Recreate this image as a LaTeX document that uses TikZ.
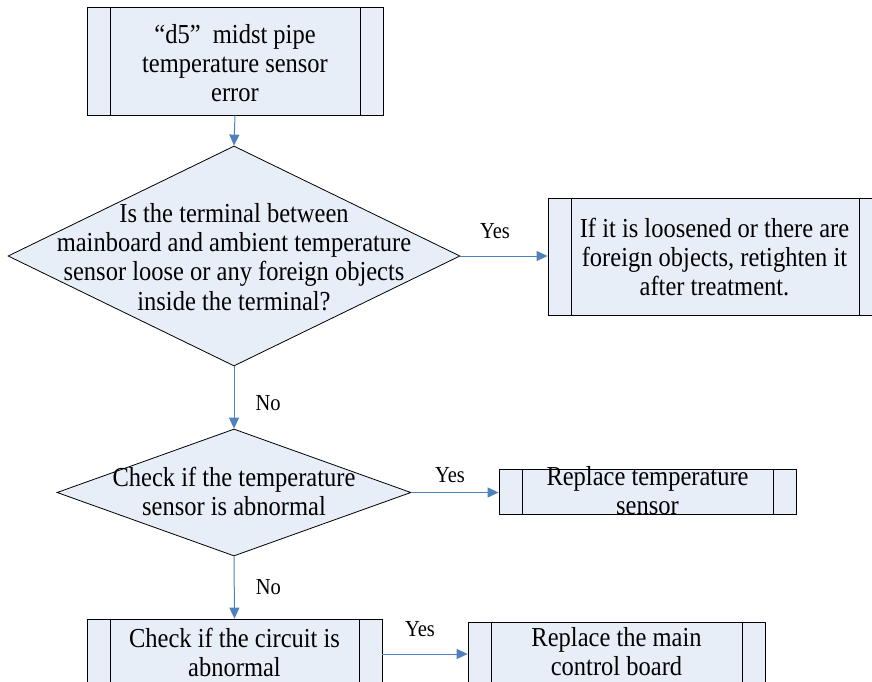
\documentclass[tikz,border=0pt]{standalone}
\usepackage{fontspec}
\setmainfont{Liberation Serif}
\usetikzlibrary{shapes.geometric,arrows.meta}
\definecolor{boxfill}{HTML}{E8EEF8}
\definecolor{conn}{HTML}{4F81BD}
\newcommand\vst[1]{\scalebox{1}[1.12]{\begin{tabular}{@{}c@{}}#1\end{tabular}}}
\begin{document}
\begin{tikzpicture}[x=1pt,y=-1pt,
  proc/.style={draw=black, fill=boxfill, line width=0.8pt, rectangle, inner sep=0pt,
    path picture={
      \draw[line width=0.8pt] ([xshift=23pt]path picture bounding box.north west) -- ([xshift=23pt]path picture bounding box.south west);
      \draw[line width=0.8pt] ([xshift=-23pt]path picture bounding box.north east) -- ([xshift=-23pt]path picture bounding box.south east);}},
  dia/.style={diamond, draw=black, fill=boxfill, line width=0.8pt, inner sep=0pt},
  txt/.style={align=center, inner sep=0pt, font=\fontsize{24.5}{26}\selectfont},
  lbl/.style={inner sep=0pt, font=\fontsize{20.5}{22}\selectfont},
  conn/.style={draw=conn, line width=1pt, -{Triangle[length=11pt,width=10pt]}}
]
\useasboundingbox (0,0) rectangle (872,682);
\clip (0,0) rectangle (872,682);

\node[proc, minimum width=296pt, minimum height=108pt] (top) at (235,61) {};
\node[txt] (toptxt) at (235,67) {\vst{“d5”\ \ midst pipe\\temperature sensor\\error}};

\node[dia, minimum width=452pt, minimum height=220pt] (d1) at (234,256) {};
\node[txt] (d1txt) at (234,260.5) {\vst{Is the terminal between\\mainboard and ambient temperature\\sensor loose or any foreign objects\\inside the terminal?}};

\node[proc, minimum width=334pt, minimum height=117pt] (b2) at (715,256.5) {};
\node[txt] (b2txt) at (714.5,261) {\vst{If it is loosened or there are\\foreign objects, retighten it\\after treatment.}};

\node[dia, minimum width=354pt, minimum height=127pt] (d2) at (234,492.5) {};
\node[txt] (d2txt) at (234,495.5) {\vst{Check if the temperature\\sensor is abnormal}};

\node[proc, minimum width=297pt, minimum height=45pt] (b3) at (647.5,491.5) {};
\node[txt] (b3txt) at (647.5,494.5) {\vst{Replace temperature\\sensor}};

\node[proc, minimum width=295pt, minimum height=70pt] (b4) at (234.5,654) {};
\node[txt] (b4txt) at (234.5,656.5) {\vst{Check if the circuit is\\abnormal}};

\node[proc, minimum width=297pt, minimum height=66pt] (b5) at (616.5,655) {};
\node[txt] (b5txt) at (616.5,655) {\vst{Replace the main\\control board}};

\draw[conn] (top.south) -- (d1.north);
\draw[conn] (d1.east) -- node[lbl, above=10pt, xshift=-9pt] (y1) {\vst{Yes}} (b2.west |- d1.east);
\draw[conn] (d1.south) -- node[lbl, right=21pt, yshift=-8.5pt] (n1) {\vst{No}} (d2.north);
\draw[conn] (d2.east) -- node[lbl, above=2pt, xshift=-5pt] (y2) {\vst{Yes}} (b3.west |- d2.east);
\draw[conn] (d2.south) -- node[lbl, right=21pt, yshift=-2.5pt] (n2) {\vst{No}} (b4.north);
\draw[conn] (b4.east) -- node[lbl, above=10pt, xshift=-5pt] (y3) {\vst{Yes}} (b5.west |- b4.east);
\end{tikzpicture}
\end{document}
